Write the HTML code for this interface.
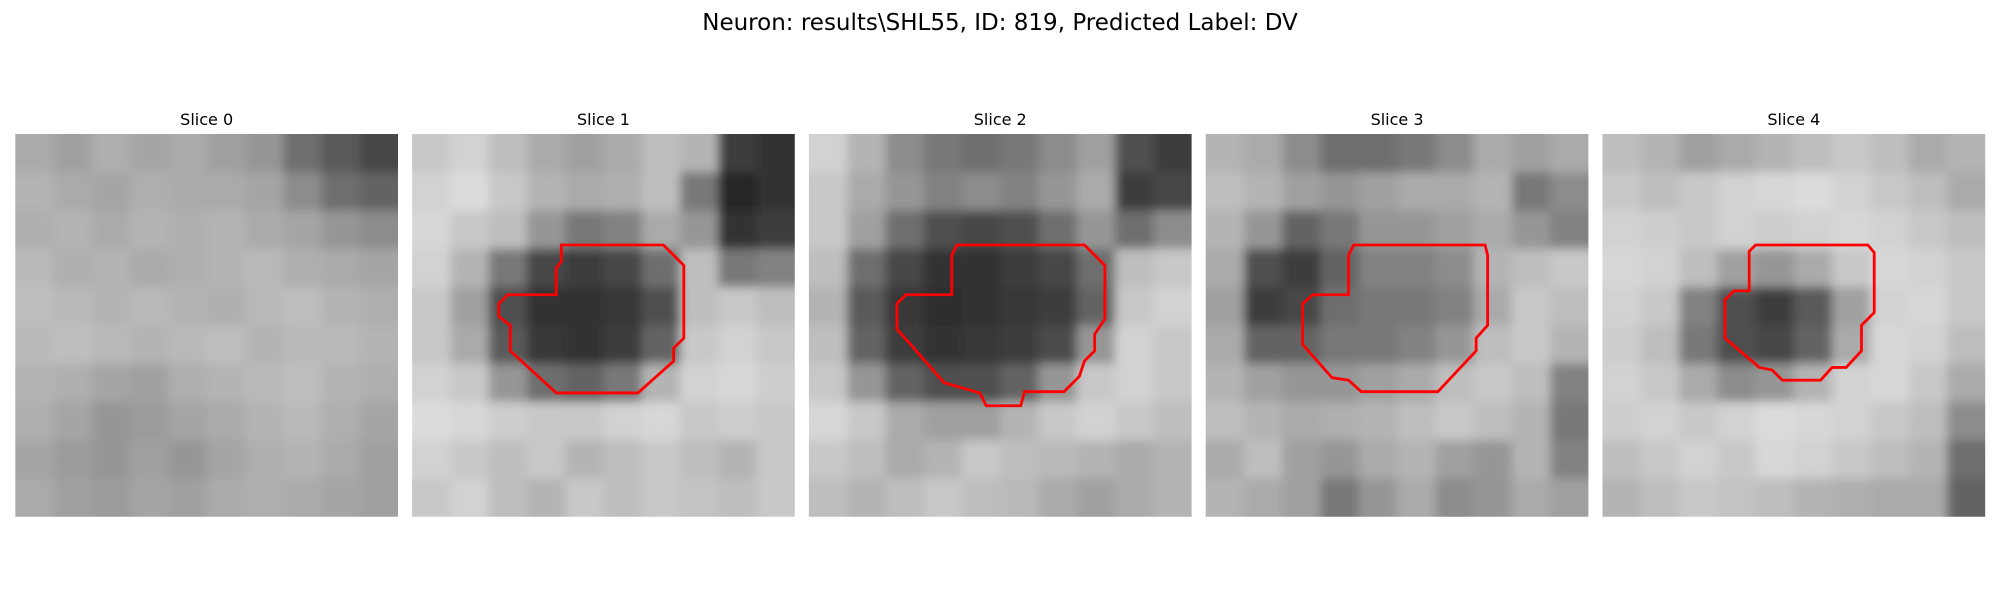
<!DOCTYPE html>
<html><head><meta charset="utf-8"><style>
body{margin:0;background:#fff;width:2000px;height:600px;overflow:hidden;font-family:"Liberation Sans","DejaVu Sans",sans-serif}
</style></head><body>
<svg id="fig" width="2000" height="600" xmlns="http://www.w3.org/2000/svg">
<defs><filter id="soft" x="-0.1" y="-0.1" width="1.2" height="1.2"><feGaussianBlur stdDeviation="5"/></filter></defs>
<text x="1000" y="30" text-anchor="middle" font-size="23" fill="#000" font-family="DejaVu Sans, sans-serif">Neuron: results\SHL55, ID: 819, Predicted Label: DV</text>
</svg>
<script>
const sliceTitles=["Slice 0","Slice 1","Slice 2","Slice 3","Slice 4"];
const gray0=[[170,160,175,165,170,160,150,110,90,70],[180,170,165,175,170,170,165,140,110,100],[175,180,170,180,175,180,170,165,150,140],[185,175,180,170,175,180,185,175,170,165],[190,185,180,185,180,175,185,190,180,175],[185,190,185,180,185,190,180,185,185,180],[180,175,165,160,175,180,185,190,180,175],[175,165,150,155,165,170,180,185,175,165],[165,155,150,160,150,165,175,180,170,160],[170,160,155,165,160,170,175,170,165,160]];
const gray1=[[200,210,190,170,160,170,190,180,60,50],[210,220,200,180,170,175,190,120,40,50],[215,200,190,150,120,130,170,150,50,60],[210,180,120,70,60,70,110,190,120,130],[200,160,80,50,50,55,80,190,200,190],[200,170,90,55,50,60,100,200,210,200],[210,200,150,110,100,120,180,210,215,205],[220,215,205,200,200,210,215,200,205,200],[210,200,190,200,180,190,200,190,180,200],[200,210,190,180,200,190,200,195,190,200]];
const gray2=[[210,180,140,120,110,120,140,160,80,60],[200,170,150,130,140,130,150,170,60,70],[200,160,110,80,70,80,110,150,110,140],[190,110,70,50,50,60,70,110,190,200],[180,90,55,45,50,55,60,100,200,210],[190,100,60,50,55,60,75,150,210,200],[200,150,100,80,80,100,150,200,210,200],[215,200,170,160,160,180,200,210,200,190],[200,190,170,180,200,190,185,180,170,180],[190,180,190,200,190,185,170,160,170,180]];
const gray3=[[180,170,140,110,110,120,140,170,160,170],[190,180,160,150,160,170,170,180,120,140],[180,150,100,120,150,150,160,170,150,130],[170,80,60,100,130,130,140,180,190,200],[160,60,70,110,120,120,130,170,200,190],[170,100,100,120,120,130,150,190,200,180],[180,160,150,150,160,170,190,200,190,130],[190,180,170,175,180,190,200,190,180,120],[170,190,160,150,170,180,160,150,180,130],[180,170,160,120,150,170,140,150,170,160]];
const gray4=[[190,180,160,170,180,190,200,190,170,180],[200,190,200,210,215,220,210,200,190,170],[210,205,200,210,205,210,215,210,200,190],[215,210,190,160,150,170,200,215,210,200],[210,200,130,80,60,90,160,210,215,200],[205,190,120,80,70,100,170,215,210,190],[210,200,170,140,150,180,210,215,200,170],[205,210,200,210,220,215,210,200,190,140],[190,200,210,200,215,210,200,190,180,110],[180,190,200,195,190,180,175,170,170,100]];
const contour1=[[11.7,8.7],[19.7,8.7],[21.3,10.3],[21.3,16],[20.5,16.8],[20.5,17.8],[17.7,20.3],[11.3,20.3],[7.7,17],[7.7,15],[6.8,14.3],[6.8,13.3],[7.5,12.6],[11.3,12.6],[11.3,10.5],[11.7,10]];
const contour2=[[11.6,8.7],[21.6,8.7],[23.2,10.3],[23.2,14.5],[22.4,15.7],[22.4,17],[21.6,17.8],[21.2,19],[20,20.2],[16.9,20.2],[16.6,21.3],[13.9,21.3],[13.4,20.3],[10.6,19.5],[7.8,16.3],[6.9,15.3],[6.9,13.3],[7.6,12.6],[11.2,12.6],[11.2,9.5]];
const contour3=[[11.6,8.7],[21.9,8.7],[22.1,9.5],[22.1,15],[21.2,16],[21.2,17],[18.2,20.2],[12.2,20.2],[11.2,19.3],[9.9,19.1],[7.6,16.5],[7.6,13.3],[8.4,12.6],[11.2,12.6],[11.2,9.5]];
const contour4=[[12,8.7],[20.8,8.7],[21.3,9.3],[21.3,14],[20.3,15],[20.3,17],[19.1,18.3],[18,18.3],[17.1,19.3],[14.1,19.3],[13.3,18.5],[12.3,18.3],[9.6,16],[9.6,13],[10.3,12.3],[11.5,12.3],[11.5,9.2]];
const grays=[gray0,gray1,gray2,gray3,gray4];
const contours=[null,contour1,contour2,contour3,contour4];

const NS="http://www.w3.org/2000/svg";
const svg=document.getElementById('fig');
const P0=15.3,STEP=396.8,TOP=134,SIZE=382.7,GRID=30,EXT=25;
function px(i,u){return P0+i*STEP+u/GRID*SIZE;}
function py(u){return TOP+u/GRID*SIZE;}
for(let i=0;i<5;i++){
  const g=document.createElementNS(NS,'g');
  
  
  svg.appendChild(g);
  const cp=document.createElementNS(NS,'clipPath');cp.id='clip'+i;
  const cr=document.createElementNS(NS,'rect');
  cr.setAttribute('x',P0+i*STEP);cr.setAttribute('y',TOP);cr.setAttribute('width',SIZE);cr.setAttribute('height',SIZE);
  cp.appendChild(cr);svg.appendChild(cp);
  const img=document.createElementNS(NS,'g');
  img.setAttribute('clip-path','url(#clip'+i+')');
  const inner=document.createElementNS(NS,'g');
  inner.setAttribute('filter','url(#soft)');
  
  
  img.appendChild(inner);g.appendChild(img);
  const data=grays[i];const n=data.length;const cs=SIZE/n;
  data.forEach((row,r)=>row.forEach((v,c)=>{
    const rc=document.createElementNS(NS,'rect');
    
    
    let x=P0+i*STEP+c*cs,y=TOP+r*cs,w=cs+0.5,h=cs+0.5;
    if(c===0){x-=EXT;w+=EXT;} if(c===n-1){w+=EXT;}
    if(r===0){y-=EXT;h+=EXT;} if(r===n-1){h+=EXT;}
    rc.setAttribute('x',x);rc.setAttribute('y',y);
    rc.setAttribute('width',w);rc.setAttribute('height',h);
    rc.setAttribute('fill','rgb('+v+','+v+','+v+')');
    inner.appendChild(rc);
  }));
  const t=document.createElementNS(NS,'text');
  
  
  t.setAttribute('x',P0+i*STEP+SIZE/2);t.setAttribute('y',125);
  t.setAttribute('text-anchor','middle');t.setAttribute('font-size','16');
  t.setAttribute('font-family','DejaVu Sans, sans-serif');
  t.textContent=sliceTitles[i];g.appendChild(t);
  if(contours[i]){
    const pl=document.createElementNS(NS,'polygon');
    
    
    pl.setAttribute('points',contours[i].map(p=>px(i,p[0])+','+py(p[1])).join(' '));
    pl.setAttribute('fill','none');pl.setAttribute('stroke','#ff0000');pl.setAttribute('stroke-width','2.8');
    g.appendChild(pl);
  }
}
</script>
</body></html>
